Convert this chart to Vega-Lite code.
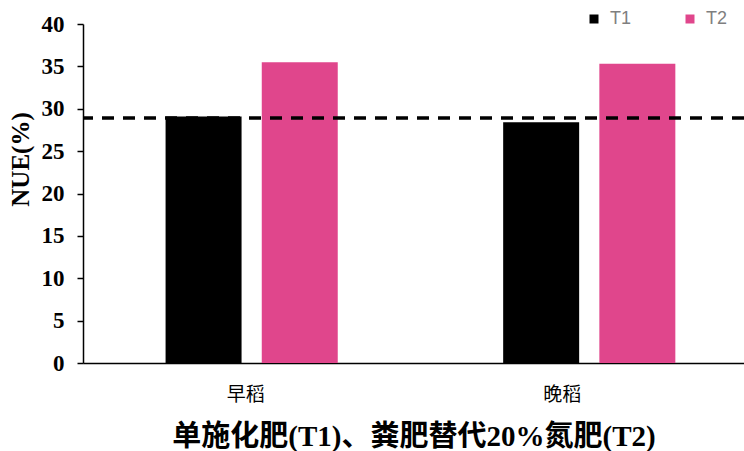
{
  "$schema": "https://vega.github.io/schema/vega-lite/v6.json",
  "width": 661,
  "height": 339,
  "autosize": {"type": "none"},
  "padding": {"left": 83, "top": 24, "right": 0, "bottom": 88},
  "background": "white",
  "datasets": {
    "bars": [
      {"season": "早稻", "treatment": "T1", "nue": 29.1},
      {"season": "早稻", "treatment": "T2", "nue": 35.5},
      {"season": "晚稻", "treatment": "T1", "nue": 28.4},
      {"season": "晚稻", "treatment": "T2", "nue": 35.3}
    ],
    "ref": [{"threshold": 28.9}]
  },
  "layer": [
    {
      "data": {"name": "bars"},
      "mark": {"type": "bar"},
      "encoding": {
        "x": {
          "field": "season",
          "type": "nominal",
          "sort": ["早稻", "晚稻"],
          "scale": {"paddingInner": 0.49, "paddingOuter": 0.224, "align": 0.546},
          "axis": {
            "title": "单施化肥(T1)、粪肥替代20%氮肥(T2)",
            "titleFont": "Liberation Serif, Noto Sans CJK SC",
            "titleFontSize": 29,
            "titleFontWeight": "bold",
            "titleColor": "black",
            "titleBaseline": "middle",
            "titleY": 73,
            "labelAngle": 0,
            "labelFont": "Noto Sans CJK SC",
            "labelFontSize": 19,
            "labelColor": "black",
            "labelPadding": 22,
            "labelOffset": {"condition": {"test": "datum.value == '晚稻'", "value": -27}, "value": -6},
            "ticks": false,
            "domainColor": "black",
            "domainWidth": 1.5,
            "grid": false
          }
        },
        "xOffset": {
          "field": "treatment",
          "type": "nominal",
          "scale": {"paddingInner": 0.21, "paddingOuter": 0}
        },
        "y": {
          "field": "nue",
          "type": "quantitative",
          "scale": {"domain": [0, 40], "nice": false},
          "axis": {
            "title": "NUE(%)",
            "titleFont": "Liberation Serif",
            "titleFontSize": 25,
            "titleFontWeight": "bold",
            "titleColor": "black",
            "titleAngle": 270,
            "titleAlign": "center",
            "titleBaseline": "middle",
            "titleX": -63,
            "titleY": 135,
            "values": [0, 5, 10, 15, 20, 25, 30, 35, 40],
            "labelFont": "Liberation Serif",
            "labelFontSize": 23,
            "labelFontWeight": "bold",
            "labelColor": "black",
            "labelPadding": 13,
            "tickSize": 6,
            "tickColor": "black",
            "tickWidth": 1.5,
            "domainColor": "black",
            "domainWidth": 1.5,
            "grid": false
          }
        },
        "color": {
          "field": "treatment",
          "type": "nominal",
          "scale": {"domain": ["T1", "T2"], "range": ["#000000", "#E0468C"]},
          "legend": {
            "title": null,
            "orient": "none",
            "legendX": 502,
            "legendY": -14,
            "direction": "horizontal",
            "symbolType": "square",
            "symbolSize": 81,
            "symbolStrokeWidth": 0,
            "labelFont": "Liberation Sans Narrow, Liberation Sans",
            "labelFontSize": 18,
            "labelColor": "#7f7f7f",
            "labelOffset": 7,
            "columnPadding": 49
          }
        }
      }
    },
    {
      "data": {"name": "ref"},
      "mark": {"type": "rule", "color": "black", "strokeWidth": 3.5, "strokeDash": [12, 9]},
      "encoding": {
        "y": {"field": "threshold", "type": "quantitative"}
      }
    }
  ],
  "config": {
    "view": {"stroke": null}
  }
}
